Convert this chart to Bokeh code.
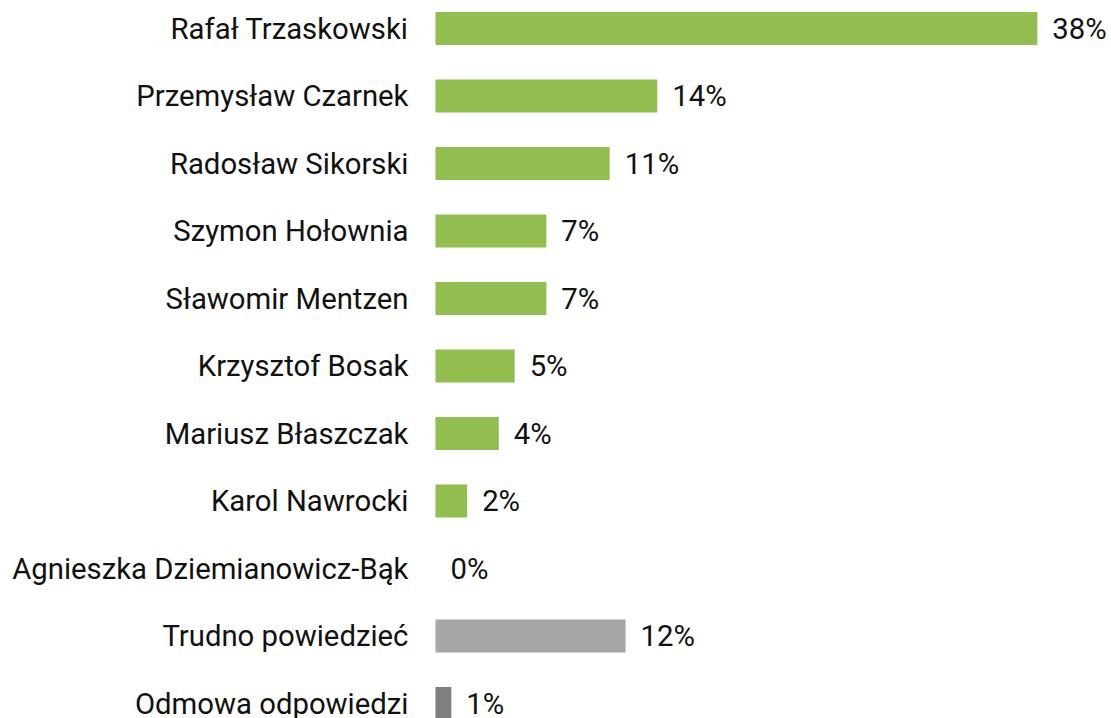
from bokeh.plotting import figure
from bokeh.models import ColumnDataSource, Range1d
from bokeh.core.properties import value
from bokeh.embed import file_html
from bokeh.resources import INLINE

names = ["Rafał Trzaskowski", "Przemysław Czarnek", "Radosław Sikorski", "Szymon Hołownia",
         "Sławomir Mentzen", "Krzysztof Bosak", "Mariusz Błaszczak", "Karol Nawrocki",
         "Agnieszka Dziemianowicz-Bąk", "Trudno powiedzieć", "Odmowa odpowiedzi"]
values = [38, 14, 11, 7, 7, 5, 4, 2, 0, 12, 1]
colors = ["#92BE50"] * 9 + ["#A6A6A6", "#7F7F7F"]

pos = list(range(len(names)))
src = ColumnDataSource(dict(
    y=pos, v=values, name=names, color=colors,
    lab=[f"{v}%" for v in values],
))

W, H = 1111, 718
p = figure(width=W, height=H, output_backend="svg", toolbar_location=None,
           x_range=Range1d(-27.46, 42.68), y_range=Range1d(10.222, -0.415),
           min_border=0, min_border_left=0, min_border_right=0,
           min_border_top=0, min_border_bottom=0)
p.axis.visible = False
p.grid.visible = False
p.outline_line_color = None

p.hbar(y="y", left=0, right="v", height=0.49, color="color", source=src, line_color=None)

font = value("Roboto")
p.text(x=0, y="y", text="name", source=src, x_offset=-27, text_align="right",
       text_baseline="middle", text_font=font, text_font_size="29.3px", text_color="#111111")
p.text(x="v", y="y", text="lab", source=src, x_offset=15, text_align="left",
       text_baseline="middle", text_font=font, text_font_size="29.3px", text_color="#111111")

open("out.html", "w").write(file_html(p, INLINE))
